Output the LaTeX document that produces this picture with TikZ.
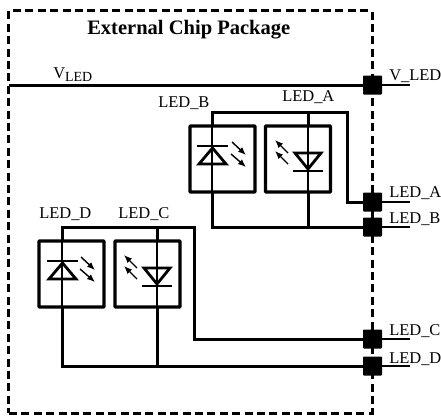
\documentclass[tikz,border=0pt]{standalone}
\usepackage{fontspec}
\setmainfont{Liberation Serif}
\usetikzlibrary{arrows.meta}
\begin{document}
\begin{tikzpicture}[
  x=0.25mm, y=-0.25mm,
  every node/.style={font=\fontsize{11.7}{13}\selectfont},
  label_text/.style={inner sep=0pt, anchor=base west},
  package/.style={draw, line width=0.75mm, dash pattern=on 2mm off 1.1mm, minimum width=90.75mm, minimum height=100.5mm, inner sep=0pt},
  led_box/.style={draw, line width=0.85mm, rounded corners=0.2mm, minimum width=16.25mm, minimum height=16.5mm, inner sep=0pt},
  pin/.style={fill=black, rounded corners=0.2mm, minimum size=4.75mm, inner sep=0pt},
  trace/.style={draw=black, line width=0.75mm},
  thin_trace/.style={draw=black, line width=0.32mm},
  tri/.style={line width=0.7mm, line join=miter},
  ray/.style={line width=0.35mm, -{Latex[length=2mm,width=1.6mm]}}
  ]
	\useasboundingbox (0,0) rectangle (441,415);

	\node[package] (chip) at (190.5,212) {};
	\node[label_text, font=\fontsize{14.6}{16}\selectfont\bfseries] (title) at (87,34) {External Chip Package};

	\node[pin] (pin_v) at (372.5,85) {};
	\node[pin] (pin_a) at (372.5,202) {};
	\node[pin] (pin_b) at (372.5,227) {};
	\node[pin] (pin_c) at (372.5,339) {};
	\node[pin] (pin_d) at (372.5,366) {};

	\coordinate (end_v) at (410,85);
	\coordinate (end_a) at (410,202);
	\coordinate (end_b) at (410,227);
	\coordinate (end_c) at (410,339);
	\coordinate (end_d) at (410,366);
	\coordinate (start_v) at (9,85);

	\draw[trace] (start_v) -- (pin_v);
	\draw[thin_trace] (pin_v) -- (end_v);
	\draw[thin_trace] (pin_a) -- (end_a);
	\draw[thin_trace] (pin_b) -- (end_b);
	\draw[thin_trace] (pin_c) -- (end_c);
	\draw[thin_trace] (pin_d) -- (end_d);

	\node[label_text] (txt_vled) at (53,78) {V{\raisebox{-2.2pt}{\fontsize{9.9}{10}\selectfont LED}}};
	\node[label_text] (txt_pin_v) at (389,80) {V\_LED};
	\node[label_text] (txt_pin_a) at (389,197) {LED\_A};
	\node[label_text] (txt_pin_b) at (389,223) {LED\_B};
	\node[label_text] (txt_pin_c) at (389,335) {LED\_C};
	\node[label_text] (txt_pin_d) at (389,363) {LED\_D};
	\node[label_text] (txt_b) at (158,107) {LED\_B};
	\node[label_text] (txt_a) at (282,101) {LED\_A};
	\node[label_text] (txt_d) at (39,218) {LED\_D};
	\node[label_text] (txt_c) at (118,218) {LED\_C};

	% upper pair
	\node[led_box] (box_b) at (222.5,159) {};
	\node[led_box] (box_a) at (298,159) {};
	\coordinate (top_b) at (212,112);
	\coordinate (top_a) at (308,112);
	\coordinate (in_b) at (212,126);
	\coordinate (out_b) at (212,192);
	\coordinate (in_a) at (308,126);
	\coordinate (out_a) at (308,192);
	\coordinate (bot_b) at (212,227);
	\coordinate (bot_a) at (308,227);
	\coordinate (turn_a) at (347,112);

	\draw[trace] (out_b) -- (bot_b) -- (pin_b);
	\draw[trace] (bot_a) -- (out_a);
	\draw[trace] (in_b) -- (top_b) -- (turn_a) |- (pin_a);
	\draw[trace] (top_a) -- (in_a);
	\draw[thin_trace] (in_b) -- (out_b);
	\draw[thin_trace] (in_a) -- (out_a);

	\draw[thin_trace] (197,146) -- (228,146);
	\draw[tri] (212.5,148) -- (226,164) -- (199,164) -- cycle;
	\draw[ray] (232,142) -- (246,155);
	\draw[ray] (231,154) -- (246,167);

	\draw[thin_trace] (293,171) -- (323,171);
	\draw[tri] (308,169) -- (321,153) -- (295,153) -- cycle;
	\draw[ray] (288,153) -- (275,140);
	\draw[ray] (288,164) -- (275,151);

	% lower pair
	\node[led_box] (box_d) at (71.5,274) {};
	\node[led_box] (box_c) at (147.5,274) {};
	\coordinate (top_d) at (62,227);
	\coordinate (top_c) at (157,227);
	\coordinate (in_d) at (62,241);
	\coordinate (out_d) at (62,306);
	\coordinate (in_c) at (157,241);
	\coordinate (out_c) at (157,306);
	\coordinate (bot_d) at (62,366);
	\coordinate (bot_c) at (157,366);
	\coordinate (turn_c) at (194,227);

	\draw[trace] (out_d) -- (bot_d) -- (pin_d);
	\draw[trace] (bot_c) -- (out_c);
	\draw[trace] (in_d) -- (top_d) -- (turn_c) |- (pin_c);
	\draw[trace] (top_c) -- (in_c);
	\draw[thin_trace] (in_d) -- (out_d);
	\draw[thin_trace] (in_c) -- (out_c);

	\draw[thin_trace] (47,261) -- (78,261);
	\draw[tri] (62.5,263) -- (76,279) -- (49,279) -- cycle;
	\draw[ray] (81,257) -- (95,270);
	\draw[ray] (80,269) -- (95,282);

	\draw[thin_trace] (142,286) -- (172,286);
	\draw[tri] (157,284) -- (170,268) -- (144,268) -- cycle;
	\draw[ray] (137,268) -- (124,255);
	\draw[ray] (137,279) -- (124,266);
\end{tikzpicture}
\end{document}
